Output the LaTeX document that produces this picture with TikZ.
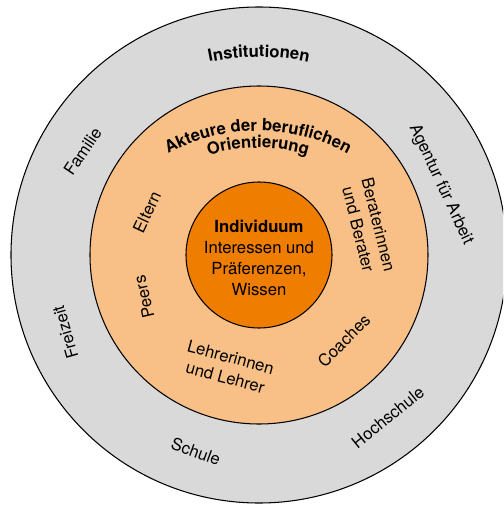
\documentclass[tikz,border=0pt]{standalone}
\usepackage{fontspec}
\setmainfont{TeX Gyre Heros}
\usetikzlibrary{decorations.text}

\definecolor{ringgrau}{HTML}{D9D9D9}
\definecolor{ringorange}{HTML}{F8C086}
\definecolor{kernorange}{HTML}{EF7D00}
\newcommand{\schrift}{\fontsize{9.5}{11.8}\selectfont}

\begin{document}
\begin{tikzpicture}[
    ring/.style={draw=black, line width=0.6pt},
    etikett/.style={font=\schrift, align=center, inner sep=0pt},
    bogen/.style={decorate, decoration={text along path, text align=center, text={#1}}}
]
    \useasboundingbox (-5.18,-5.00) rectangle (4.88,5.10);
    \clip (-5.18,-5.00) rectangle (4.88,5.10);
    \draw[ring, fill=ringgrau] (0,0) circle (4.96); % aeusserer Ring
    \draw[ring, fill=ringorange] (0,0) circle (3.38); % mittlerer Ring
    \draw[ring, fill=kernorange] (0,0) circle (1.46); % Kern
    % gebogene Titel
    \path[bogen={|\schrift\bfseries|Institutionen}] (0,-1.04) ++(110:5.0) arc[start angle=110, end angle=70, radius=5.0];
    \path[bogen={|\schrift\bfseries|Akteure der beruflichen}] (-0.02,-1.30) ++(150:3.78) arc[start angle=150, end angle=30, radius=3.78];
    \path[bogen={|\schrift\bfseries|Orientierung}] (-0.02,-1.30) ++(150:3.44) arc[start angle=150, end angle=30, radius=3.44];
    % Kern
    \node[etikett] (individuum) at (0,-0.06) {\textbf{Individuum}\\Interessen und\\Präferenzen,\\Wissen};
    % Institutionen
    \node[etikett, rotate=56] (familie) at (149.6:4.09) {Familie};
    \node[etikett, rotate=106] (freizeit) at (201.8:4.17) {Freizeit};
    \node[etikett, rotate=-20] (schule) at (252.2:4.13) {Schule};
    \node[etikett, rotate=39] (hochschule) at (-51.5:4.14) {Hochschule};
    \node[etikett, rotate=-65] (agentur) at (21.2:3.90) {Agentur für Arbeit};
    % Akteure
    \node[etikett, rotate=65] (eltern) at (159:2.40) {Eltern};
    \node[etikett, rotate=103] (peers) at (200:2.45) {Peers};
    \node[etikett, rotate=-15] (lehrer) at (254.6:2.33) {Lehrerinnen\\und Lehrer};
    \node[etikett, rotate=45] (coaches) at (-45.2:2.41) {Coaches};
    \node[etikett, rotate=-76] (berater) at (14.3:2.26) {Beraterinnen\\und Berater};
\end{tikzpicture}
\end{document}
